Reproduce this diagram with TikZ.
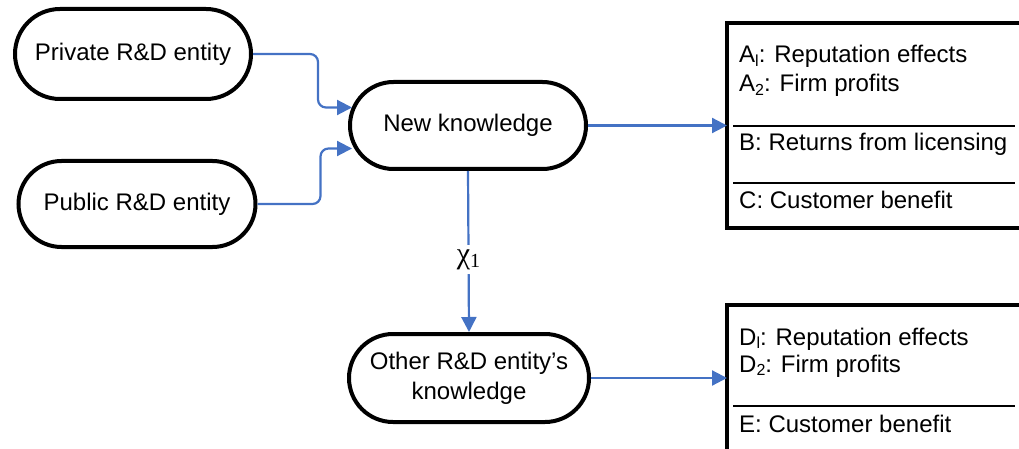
\documentclass[tikz,border=0pt]{standalone}
\usepackage{fontspec}
\setmainfont{Liberation Sans}
\newfontfamily\chifont{Liberation Serif}
\usetikzlibrary{arrows.meta,shapes.misc}
\definecolor{connblue}{RGB}{68,114,196}
\newcommand\mysubs[1]{\raisebox{-3.5pt}{\fontsize{16}{16}\selectfont #1}}
\begin{document}
\begin{tikzpicture}[x=1pt,y=-1pt,
  ent/.style={rounded rectangle, draw, line width=4pt, font=\fontsize{24}{30}\selectfont, align=center, inner sep=0pt},
  conn/.style={draw=connblue, line width=2.2pt, -{Triangle[length=15pt,width=15pt]}, rounded corners=8pt},
  lbl/.style={anchor=base west, font=\fontsize{24}{29}\selectfont, inner sep=0pt},
  sep/.style={line width=1.2pt},
  frame/.style={line width=4pt, line join=miter},
  resbox/.style={anchor=north west, inner sep=0pt, minimum width=292pt}]
\useasboundingbox (0,0) rectangle (1019,449);
% entity nodes
\node[ent, minimum width=236pt, minimum height=90pt] (priv) at (133,54) {Private R\&D entity};
\node[ent, minimum width=237pt, minimum height=86pt] (pub) at (137,204) {Public R\&D entity};
\node[ent, minimum width=236pt, minimum height=87pt] (newk) at (468,125.5) {New knowledge};
\node[ent, minimum width=240pt, minimum height=88pt] (other) at (469,378) {Other R\&D entity’s\\knowledge};
% result boxes
\node[resbox, minimum height=205pt] (resA) at (727,23) {};
\node[resbox, minimum height=146pt] (resB) at (727,305) {};
\draw[frame] (resA.north east) -- (resA.north west) -- (resA.south west) -- (resA.south east);
\draw[frame] (resB.north east) -- (resB.north west) -- (resB.south west);
\draw[sep] (733,126) -- (1015,126);
\draw[sep] (733,183) -- (1015,183);
\draw[sep] (733,406) -- (1015,406);
% texts
\node[lbl] (a1) at (739,63) {A\mysubs{l}: Reputation effects};
\node[lbl] (a2) at (739,92) {A\mysubs{2}: Firm profits};
\node[lbl] (b) at (739,151) {B: Returns from licensing};
\node[lbl] (c) at (739,208) {C: Customer benefit};
\node[lbl] (d1) at (739,345) {D\mysubs{l}: Reputation effects};
\node[lbl] (d2) at (739,372) {D\mysubs{2}: Firm profits};
\node[lbl] (e) at (739,432) {E: Customer benefit};
% connectors
\draw[conn] (priv.east) -- ++(65,0) |- ([shift={(4,-18)}]newk.west);
\draw[conn] (pub.east) -- ++(63,0) |- ([shift={(4,23)}]newk.west);
\draw[conn, rounded corners=0pt] (newk.east) -- (newk.east -| resA.west);
\draw[conn, rounded corners=0pt] (other.east) -- (other.east -| resB.west);
\draw[conn, rounded corners=0pt] (newk.south) -- node[pos=0.55, fill=white, inner sep=4pt, font=\chifont\fontsize{30}{32}\selectfont] (chi) {χ\raisebox{-4pt}{\fontsize{20}{24}\selectfont 1}} (other.north);
\end{tikzpicture}
\end{document}
